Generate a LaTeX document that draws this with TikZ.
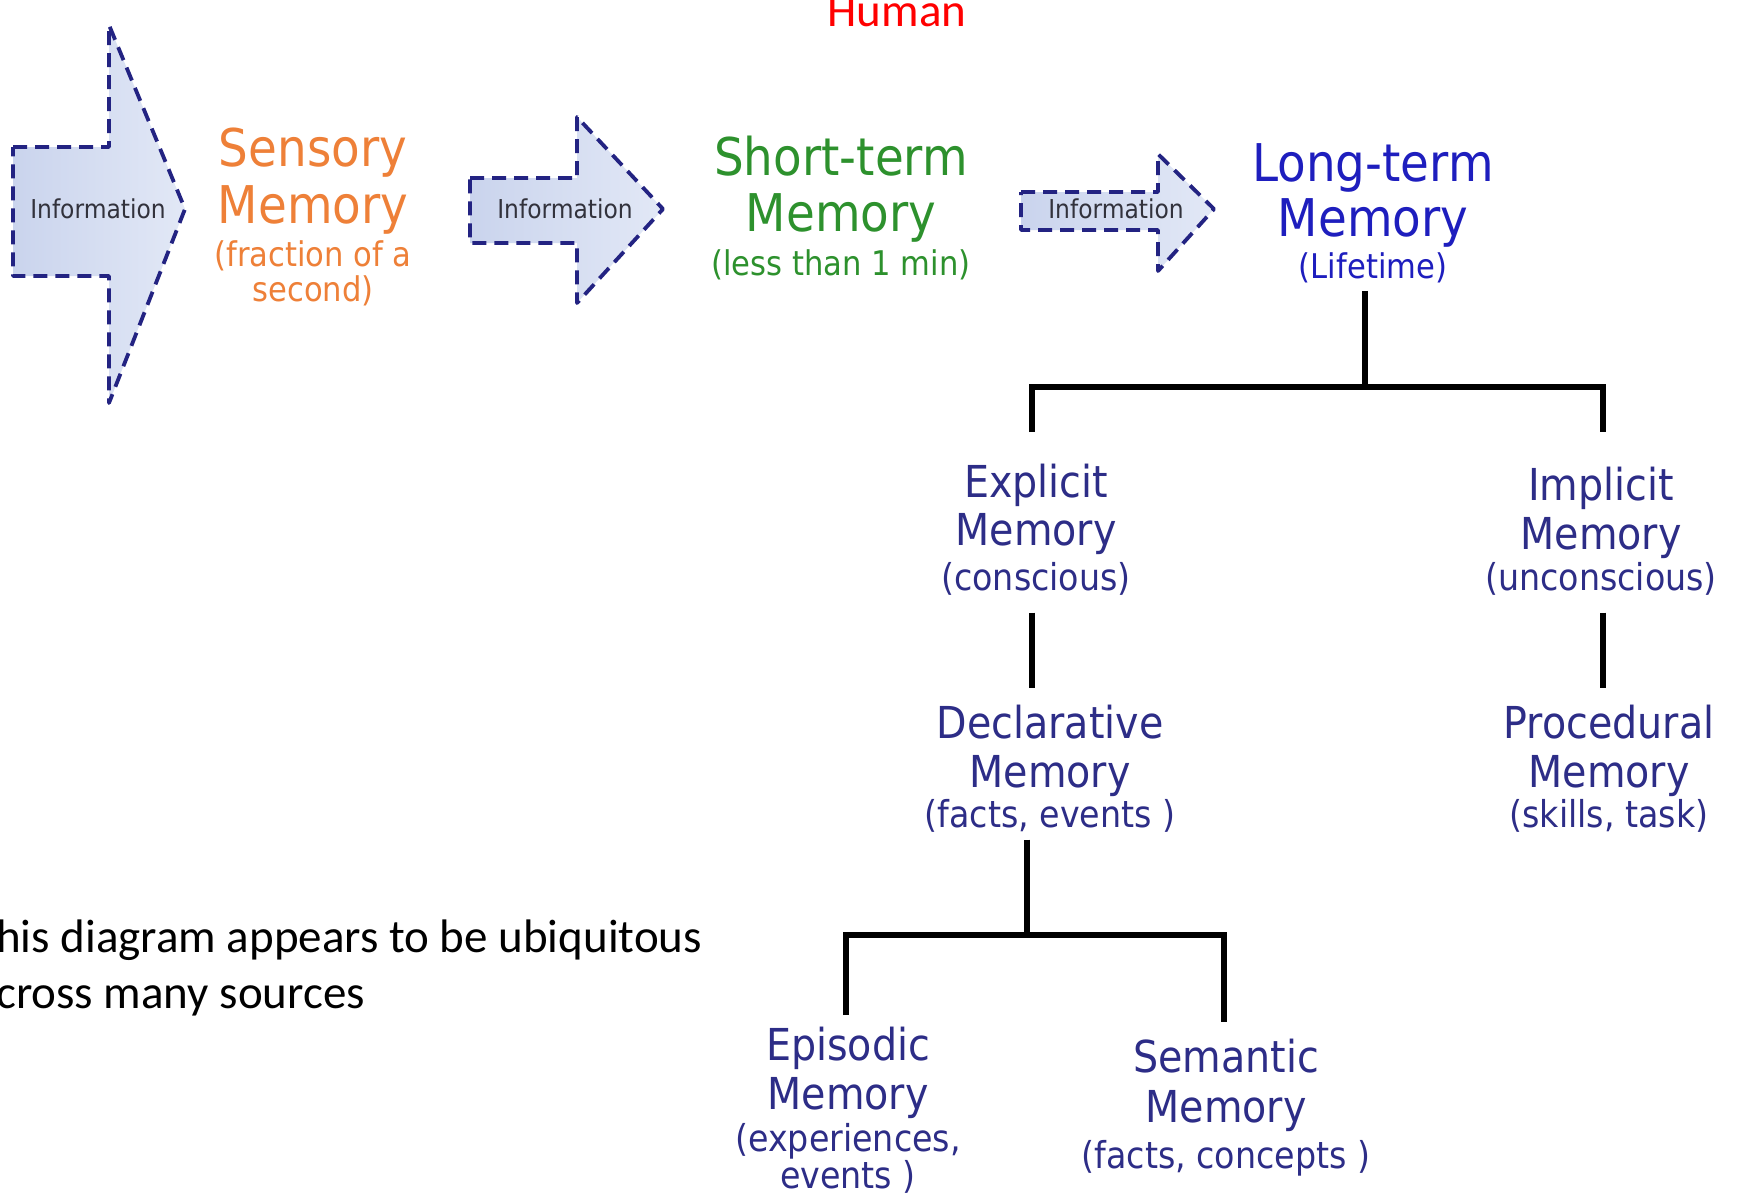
\documentclass[tikz,border=0pt]{standalone}
\usepackage{fontspec}
\newfontfamily\dvfont[FakeStretch=0.9]{DejaVu Sans}
\newfontfamily\calfont{Carlito}
\usetikzlibrary{calc}
\definecolor{orangeT}{RGB}{238,128,56}
\definecolor{greenT}{RGB}{45,145,45}
\definecolor{ltblue}{RGB}{30,30,190}
\definecolor{treeblue}{RGB}{45,45,135}
\definecolor{infogray}{RGB}{50,50,60}
\definecolor{dashnavy}{RGB}{35,35,130}
\definecolor{arrowL}{RGB}{202,212,237}
\definecolor{arrowR}{RGB}{226,232,246}
\newcommand\topsub[1]{{\fontsize{34bp}{38bp}\selectfont #1}}
\newcommand\treesub[1]{{\fontsize{37bp}{42bp}\selectfont #1}}
\tikzset{
  ttl/.style={font=\dvfont\fontsize{52bp}{57bp}\selectfont, align=center, inner sep=0pt, anchor=north},
  treenode/.style={font=\dvfont\fontsize{44bp}{48bp}\selectfont, align=center, inner sep=0pt, anchor=north, text=treeblue},
  infoarrow/.style={draw=dashnavy, line width=3.8bp, dash pattern=on 14bp off 8bp, left color=arrowL, right color=arrowR, line join=round},
  info/.style={font=\dvfont\fontsize{26bp}{30bp}\selectfont, text=infogray, inner sep=0pt},
  tree/.style={draw=black, line width=6bp},
  note/.style={font=\calfont\fontsize{47bp}{51bp}\selectfont, text=black, inner sep=0pt, anchor=base west}
}
\begin{document}
\begin{tikzpicture}[x=1bp,y=-1bp]
\useasboundingbox (0,0) rectangle (1746,1196);
\clip (0,0) rectangle (1746,1196);
\fill[white] (0,0) rectangle (1746,1196);

% title fragment
\node[font=\calfont\fontsize{47bp}{56bp}\selectfont, text=red, inner sep=0pt, anchor=base] (human) at (897,26) {Human};

% information arrows
\draw[infoarrow] (13,147) -- (109,147) -- (109,25) -- (185,209) -- (109,403) -- (109,276) -- (13,276) -- cycle;
\node[info] (info1) at (98,209) {Information};
\draw[infoarrow] (470,178) -- (577,178) -- (577,117) -- (663,209) -- (577,303) -- (577,243) -- (470,243) -- cycle;
\node[info] (info2) at (565,209) {Information};
\draw[infoarrow] (1021,192) -- (1158,192) -- (1158,154) -- (1214,209) -- (1158,271) -- (1158,230) -- (1021,230) -- cycle;
\node[info] (info3) at (1116,209) {Information};

% top row
\node[ttl, text=orangeT] (sens) at (313,128) {Sensory\\Memory\\[-14bp]\topsub{(fraction of a}\\[-22bp]\topsub{second)}};
\node[ttl, text=greenT] (stm) at (841,136) {Short-term\\[-1bp]Memory\\[-13bp]\topsub{(less than 1 min)}};
\node[ttl, text=ltblue] (lt) at (1373,143) {Long-term\\[-2bp]Memory\\[-15bp]\topsub{(Lifetime)}};

% tree
\node[treenode] (exp) at (1036,464) {Explicit\\Memory\\[-3bp]\treesub{(conscious)}};
\node[treenode] (imp) at (1601,467) {Implicit\\[1bp]Memory\\[-7bp]\treesub{(unconscious)}};
\node[treenode] (dec) at (1050,705) {Declarative\\[1bp]Memory\\[-8bp]\treesub{(facts, events )}};
\node[treenode] (proc) at (1609,705) {Procedural\\[1bp]Memory\\[-8bp]\treesub{(skills, task)}};
\node[treenode] (epi) at (848,1027) {Episodic\\[1bp]Memory\\[-6bp]\treesub{(experiences,}\\[-11bp]\treesub{events )}};
\node[treenode] (sem) at (1226,1039) {Semantic\\[2bp]Memory\\[-2bp]\treesub{(facts, concepts )}};

\coordinate (j1) at (1365,387);
\coordinate (j2) at (1027,935);
\draw[tree] ($(lt.south)+(-8,8)$) -- (j1);
\draw[tree] ($(exp.north)+(-4,-32)$) |- (j1) -| ($(imp.north)+(2,-35)$);
\draw[tree] ($(exp.south)+(-4,17)$) -- ($(dec.north)+(-18,-17)$);
\draw[tree] ($(imp.south)+(2,17)$) -- ($(proc.north)+(-6,-17)$);
\draw[tree] ($(dec.south)+(-23,7)$) -- (j2);
\draw[tree] ($(epi.north)+(-2,-12)$) |- (j2) -| ($(sem.north)+(-2,-17)$);

% note text
\node[note] (note1) at (-4,952) {his diagram appears to be ubiquitous};
\node[note] (note2) at (-4,1008) {cross many sources};
\end{tikzpicture}
\end{document}
